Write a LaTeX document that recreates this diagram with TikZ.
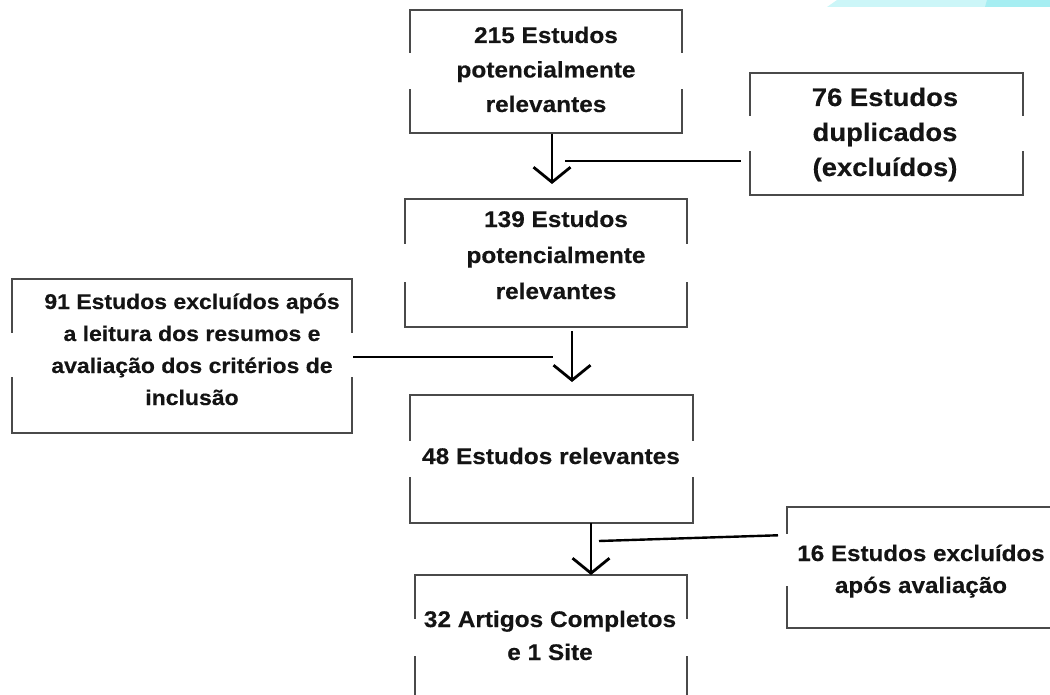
\documentclass[tikz,border=0pt]{standalone}
\usepackage{fontspec}
\setmainfont{Liberation Sans}[FakeStretch=1.08, BoldFeatures={FakeBold=0.35}]
\usetikzlibrary{arrows.meta,calc}
\definecolor{boxgray}{HTML}{4A4A4A}
\definecolor{textcol}{HTML}{141414}
\definecolor{cyanA}{HTML}{CCF6F8}
\definecolor{cyanB}{HTML}{A6EEF2}
\newcommand\openbox[3]{%
  \draw[boxline] (#1.north west) -- (#1.north east);
  \draw[boxline] (#1.south west) -- (#1.south east);
  \draw[boxline] (#1.north west) -- (#1.north west |- 0,#2);
  \draw[boxline] (#1.south west |- 0,#3) -- (#1.south west);
  \draw[boxline] (#1.north east) -- (#1.north east |- 0,#2);
  \draw[boxline] (#1.south east |- 0,#3) -- (#1.south east);
}
\begin{document}
\begin{tikzpicture}[x=1pt,y=-1pt,
  frame/.style={rectangle, inner sep=0pt, outer sep=0pt},
  boxline/.style={draw=boxgray, line width=2pt, line cap=rect},
  conn/.style={line width=2.4pt, black},
  arr/.style={line width=2.8pt, black, -{Straight Barb[length=15pt,width=37pt,line width=2.8pt]}},
  txt/.style={anchor=base, align=center, inner sep=0pt, text=textcol}]
\path[use as bounding box] (0,0) rectangle (1050,695);
\clip (0,0) rectangle (1050,695);

% cyan artifact top right
\fill[cyanA] (827,7) -- (837,0) -- (1050,0) -- (1050,7) -- cycle;
\fill[cyanB] (985,7) -- (987,0) -- (1050,0) -- (1050,7) -- cycle;

% boxes
\node[frame, minimum width=272pt, minimum height=123pt] (b1) at (546,71.5) {};
\node[frame, minimum width=273pt, minimum height=122pt] (b76) at (886.5,134) {};
\node[frame, minimum width=282pt, minimum height=128pt] (b2) at (546,263) {};
\node[frame, minimum width=340pt, minimum height=154pt] (b91) at (182,356) {};
\node[frame, minimum width=283pt, minimum height=128pt] (b48) at (551.5,459) {};
\node[frame, minimum width=273pt, minimum height=121pt] (b16) at (923.5,567.5) {};
\node[frame, minimum width=272pt, minimum height=130pt] (b32) at (551,640) {};

\openbox{b1}{52}{90}
\openbox{b76}{115}{152}
\openbox{b2}{243}{283}
\openbox{b91}{332}{378}
\openbox{b48}{440}{478}
% b16: no right side
\draw[boxline] (b16.north west) -- (b16.north east);
\draw[boxline] (b16.south west) -- (b16.south east);
\draw[boxline] (b16.north west) -- (b16.north west |- 0,533);
\draw[boxline] (b16.south west |- 0,587) -- (b16.south west);
% b32: no bottom
\draw[boxline] (b32.north west) -- (b32.north east);
\draw[boxline] (b32.north west) -- (b32.north west |- 0,618);
\draw[boxline] (b32.south west |- 0,657) -- (b32.south west);
\draw[boxline] (b32.north east) -- (b32.north east |- 0,618);
\draw[boxline] (b32.south east |- 0,657) -- (b32.south east);

% texts (anchored at the baseline of the last line)
\node[txt, font=\bfseries\fontsize{22.6}{34.5}\selectfont] (t1) at (546,112) {215 Estudos\\potencialmente\\relevantes};
\node[txt, font=\bfseries\fontsize{25.4}{35}\selectfont] (t76) at (885,176) {76 Estudos\\duplicados\\(excluídos)};
\node[txt, font=\bfseries\fontsize{22.6}{36}\selectfont] (t2) at (556,299) {139 Estudos\\potencialmente\\relevantes};
\node[txt, font=\bfseries\fontsize{21.3}{32}\selectfont] (t91) at (192,405) {91 Estudos excluídos após\\a leitura dos resumos e\\avaliação dos critérios de\\inclusão};
\node[txt, font=\bfseries\fontsize{22.6}{34}\selectfont] (t48) at (551,464) {48 Estudos relevantes};
\node[txt, font=\bfseries\fontsize{22.4}{32}\selectfont] (t16) at (921,593) {16 Estudos excluídos\\após avaliação};
\node[txt, font=\bfseries\fontsize{22.6}{33}\selectfont] (t32) at (550,660) {32 Artigos Completos\\e 1 Site};

% arrows and connectors
\coordinate (tip1) at (552,184);
\coordinate (j1) at (565,161);
\draw[arr, shorten <=1pt] (b1.south -| tip1) -- (tip1);
\draw[conn, shorten >=9pt] (j1) -- (b76.west |- j1);

\coordinate (tip2) at (572,382);
\coordinate (j2) at (553,357);
\draw[arr, shorten <=4pt] (b2.south -| tip2) -- (tip2);
\draw[conn, shorten <=1pt] (b91.east |- j2) -- (j2);

\coordinate (tip3) at (591,575);
\coordinate (j3) at (599,541);
\draw[arr] (b48.south -| tip3) -- (b32.north -| tip3);
\draw[conn, shorten >=9pt] (j3) -- (b16.west |- 0,535);
\end{tikzpicture}
\end{document}
